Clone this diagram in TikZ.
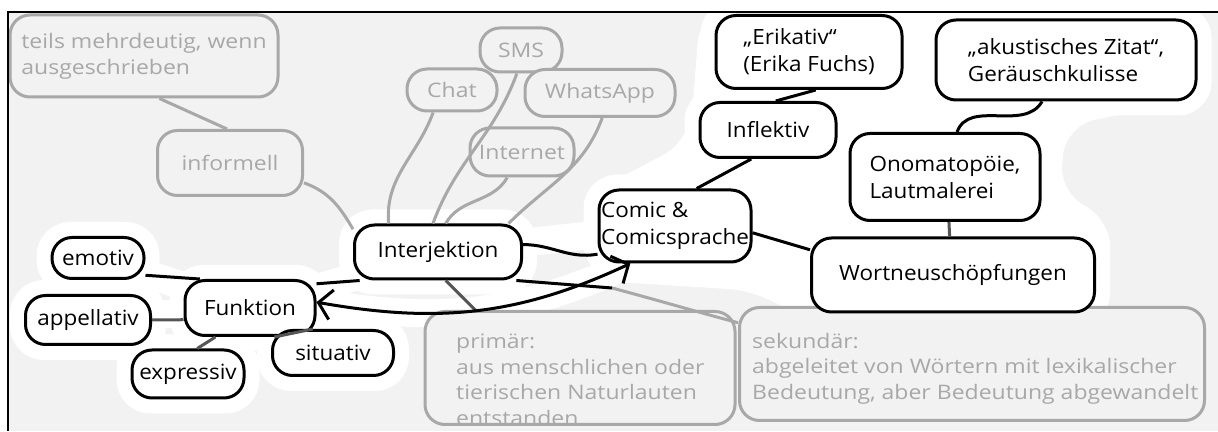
\documentclass[tikz,border=0pt]{standalone}
\usepackage{fontspec}
\setmainfont{Open Sans}
\newfontfamily\blkfont{Open Sans}[FakeStretch=1.07]
\newfontfamily\gryfont{Open Sans}[FakeStretch=1.15]
\usetikzlibrary{arrows.meta,fit,calc}
\pgfdeclarelayer{bg}\pgfdeclarelayer{halo}\pgfsetlayers{bg,halo,main}
\definecolor{lg}{HTML}{A8A8A8}
\definecolor{dg}{HTML}{555555}
\definecolor{bgc}{HTML}{F2F2F2}
\begin{document}
\begin{tikzpicture}[x=1pt,y=1pt,
  blk/.style={draw=black, line width=3pt, fill=white, rounded corners=20pt, inner sep=0pt, font=\blkfont\fontsize{21}{27}\selectfont, align=left},
  gry/.style={draw=lg, line width=3pt, fill=bgc, rounded corners=20pt, inner sep=0pt, text=lg, font=\gryfont\fontsize{20}{26}\selectfont, align=left},
  gtext/.style={text=lg, inner sep=0pt, font=\gryfont\fontsize{20}{25.5}\selectfont, align=left},
  bl/.style={draw=black, line width=3pt},
  dl/.style={draw=dg, line width=3pt},
  gl/.style={draw=lg, line width=3pt},
  halo/.style={draw=white, fill=white, line width=28pt, rounded corners=20pt, inner sep=0pt},
  barb/.style={{Straight Barb[length=13pt,width=30pt]}-{Straight Barb[length=13pt,width=30pt]}}
  ]
\useasboundingbox (0,0) rectangle (1218,431);
\begin{pgfonlayer}{bg}
  \fill[white] (0,0) rectangle (1218,431);
  \fill[bgc] (8,0) rectangle (1218,419);
\end{pgfonlayer}

% gray nodes
\node[gry, minimum width=268, minimum height=82] (teils) at (144,375) {teils mehrdeutig, wenn\\ausgeschrieben};
\node[gry, minimum width=145, minimum height=65] (informell) at (230,268) {informell};
\node[gry, minimum width=90, minimum height=42] (chat) at (452,341) {Chat};
\node[gry, minimum width=82, minimum height=44] (sms) at (521,381) {SMS};
\node[gry, minimum width=150, minimum height=47] (whatsapp) at (600,338) {WhatsApp};
\node[gry, minimum width=104, minimum height=48] (internet) at (522,279) {Internet};
\node[gry, minimum width=310, minimum height=113] (primaer) at (580,63) {};
\node[gtext, anchor=north west] (primtext) at (456,97) {primär:\\aus menschlichen oder\\tierischen Naturlauten\\entstanden};
\node[gry, minimum width=465, minimum height=113] (sekundaer) at (972,67) {};
\node[gtext, anchor=north west] (sektext) at (752,98) {sekundär:\\abgeleitet von Wörtern mit lexikalischer\\Bedeutung, aber Bedeutung abgewandelt};

% black nodes
\node[blk, minimum width=167, minimum height=54] (interj) at (438,179) {Interjektion};
\node[blk, minimum width=152, minimum height=72] (comic) at (675,205) {Comic \&\\Comicsprache};
\node[blk, minimum width=136, minimum height=55] (inflektiv) at (768,301) {Inflektiv};
\node[blk, minimum width=186, minimum height=73] (erikativ) at (809,379) {„Erikativ“\\(Erika Fuchs)};
\node[blk, minimum width=260, minimum height=80] (akust) at (1066,371) {„akustisches Zitat“,\\Geräuschkulisse};
\node[blk, minimum width=190, minimum height=87] (onoma) at (945,254) {Onomatopöie,\\Lautmalerei};
\node[blk, minimum width=283, minimum height=74] (wortneu) at (953,156) {Wortneuschöpfungen};
\node[blk, minimum width=130, minimum height=55] (funktion) at (250,123) {Funktion};
\node[blk, minimum width=92, minimum height=41] (emotiv) at (98,173) {emotiv};
\node[blk, minimum width=125, minimum height=49] (appell) at (88,111) {appellativ};
\node[blk, minimum width=112, minimum height=48] (express) at (188,57) {expressiv};
\node[blk, minimum width=121, minimum height=45] (situativ) at (333,78) {situativ};

\coordinate (k) at (612,143);

% gray connectors
\draw[gl] (teils.-70) -- (informell.95);
\draw[gl] (informell.-15) to[out=-20,in=120] (interj.165);
\draw[gl] (chat.230) to[out=-110,in=95] (interj.150);
\draw[gl] (sms.260) to[out=-110,in=70] (interj.100);
\draw[gl] (internet.240) to[out=-120,in=60] (interj.75);
\draw[gl] (whatsapp.275) to[out=-110,in=45] (interj.22);
\draw[gl] (k) to[out=-15,in=165] (sekundaer.170);
\draw[dl] (interj.-75) -- (primaer.151);

% black connectors
\draw[bl] (interj.5) to[out=0,in=190] (comic.200);
\draw[bl] (interj.200) -- (funktion.20);
\draw[bl] (interj.-20) -- (k);
\draw[bl] (emotiv.-20) -- (funktion.150);
\draw[dl] (appell.east) -- (funktion.190);
\draw[dl] (express.70) -- (funktion.220);
\draw[dl] (situativ.130) -- (funktion.-50);
\draw[bl, barb] (funktion.5) to[out=-10,in=205] (comic.220);
\draw[bl] (comic.60) -- (inflektiv.240);
\draw[bl] (inflektiv.75) -- (erikativ.280);
\draw[bl] (comic.-5) -- (wortneu.170);
\draw[dl] (wortneu.95) -- (onoma.-85);
\draw[bl] (onoma.75) to[out=70,in=240] (akust.240);

% frame
\draw[line width=2pt] (8,0) -- (8,419) -- (1218,419);

% halos
\begin{pgfonlayer}{halo}
  \fill[white, rounded corners=30pt] (700,419) -- (1210,419) -- (1210,335) -- (1065,305) -- (1060,235) -- (1110,215) -- (1110,112) -- (800,112) -- (760,140) -- (600,150) -- (585,235) -- (690,290) -- cycle;
  \foreach \n in {interj,comic,inflektiv,erikativ,akust,onoma,wortneu,funktion,emotiv,appell,express,situativ}
    \node[halo, fit=(\n)] {};
  \draw[white, line width=28pt] (interj) -- (comic) (interj) -- (funktion) (funktion) -- (emotiv) (funktion) -- (appell) (funktion) -- (express) (funktion) -- (situativ) (funktion.5) to[out=-10,in=205] (comic.220);
\end{pgfonlayer}
\end{tikzpicture}
\end{document}
